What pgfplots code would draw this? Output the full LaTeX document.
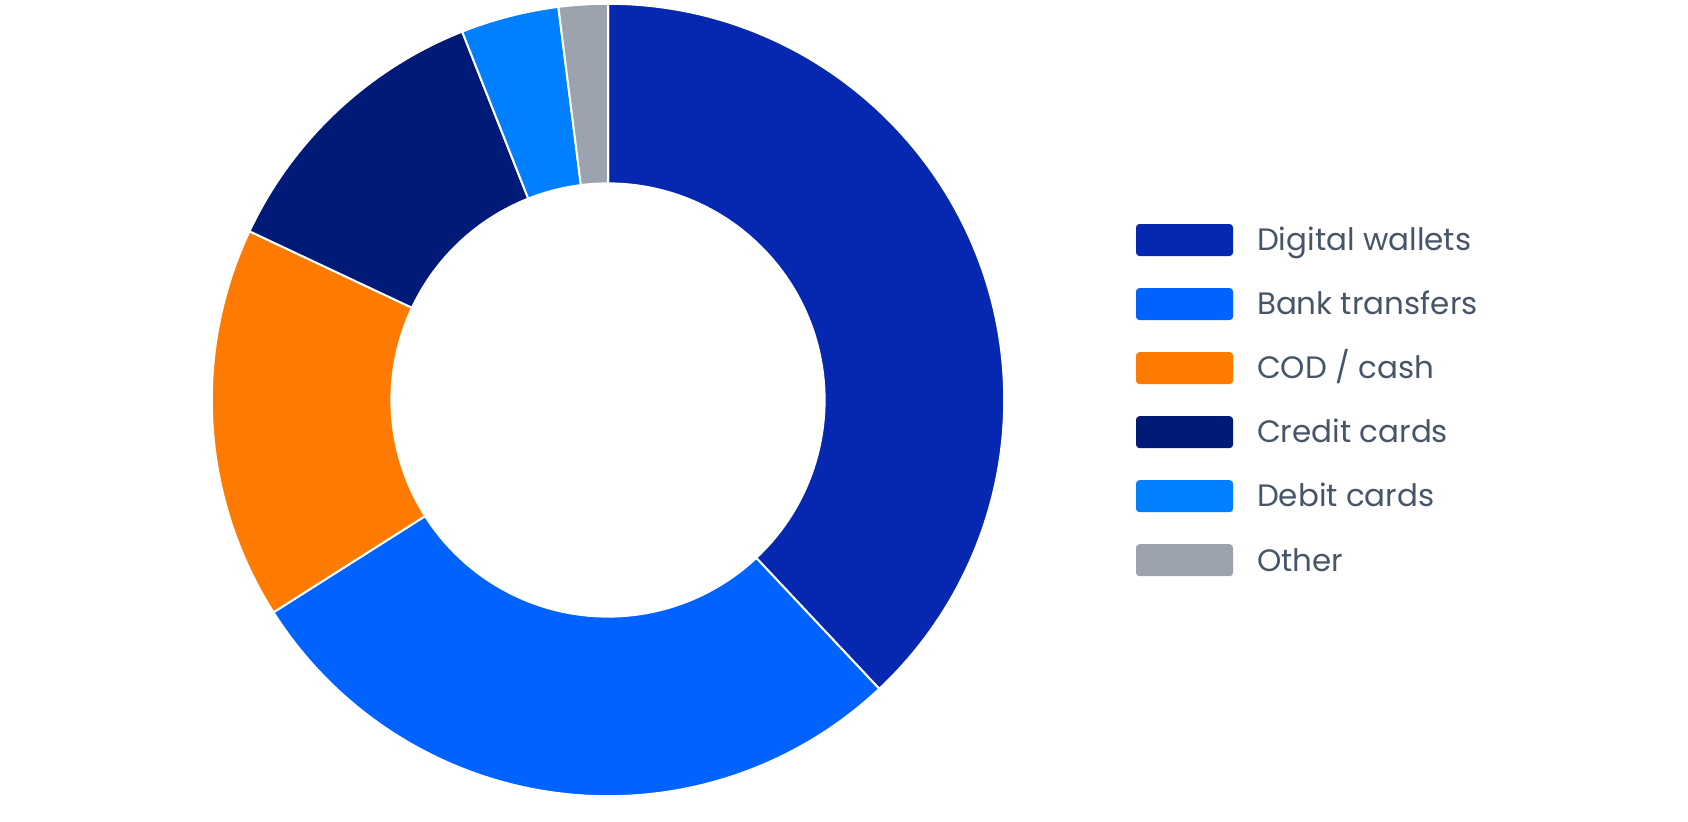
\documentclass[border=0pt]{standalone}
\usepackage{pgfplots}
\pgfplotsset{compat=1.18}
\usepackage{pgfplotstable}
\usepackage{fontspec}
\setmainfont{Poppins}

\definecolor{cDW}{HTML}{0627B0}
\definecolor{cBT}{HTML}{0062FF}
\definecolor{cCOD}{HTML}{FF7A00}
\definecolor{cCC}{HTML}{001A78}
\definecolor{cDC}{HTML}{0080FF}
\definecolor{cOT}{HTML}{9CA3AF}
\definecolor{txt}{HTML}{475569}

% share of payments, percent
\pgfplotstableread[col sep=comma]{
label,value,color
Digital wallets,38,cDW
Bank transfers,28,cBT
COD / cash,16,cCOD
Credit cards,12,cCC
Debit cards,4,cDC
Other,2,cOT
}\shares

\pgfplotsset{
  swatch legend/.style={legend image code/.code={
      \fill[##1, rounded corners=0.035cm] (0cm,-0.052cm) rectangle (0.97cm,0.268cm);
      \path (1.21cm,0cm);}},
}

\begin{document}
\begin{tikzpicture}
\begin{axis}[
  x=0.01cm, y=0.01cm,
  xmin=0, xmax=1688, ymin=0, ymax=800,
  y dir=reverse,
  hide axis, clip=false, scale only axis,
  legend style={at={(axis cs:1136,224)}, anchor=north west,
    draw=none, fill=none, inner sep=0pt, outer sep=0pt,
    row sep=0.32cm, column sep=0pt,
    font=\fontsize{8.8}{10}\selectfont, text=txt,
    nodes={inner sep=0pt, anchor=base west, text height=0.2cm, text depth=0cm}},
  legend cell align=left,
]
\path (axis cs:0,0) rectangle (axis cs:1688,800);
\def\cum{0}
\pgfplotsforeachungrouped \i in {0,...,5}{%
  \pgfplotstablegetelem{\i}{value}\of\shares \let\sv\pgfplotsretval
  \pgfplotstablegetelem{\i}{color}\of\shares \let\wc\pgfplotsretval
  \pgfplotstablegetelem{\i}{label}\of\shares \let\lab\pgfplotsretval
  \pgfmathsetmacro\sa{90-3.6*\cum}
  \pgfmathsetmacro\cum{\cum+\sv}
  \pgfmathsetmacro\sb{90-3.6*\cum}
  \edef\tmp{\noexpand\fill[\wc, draw=white, line width=0.02cm]
    ([shift={(\sa:3.96cm)}]axis cs:608,400)
    arc[start angle=\sa, end angle=\sb, radius=3.96cm]
    -- ([shift={(\sb:2.165cm)}]axis cs:608,400)
    arc[start angle=\sb, end angle=\sa, radius=2.165cm] -- cycle;}%
  \tmp
  \edef\tmp{\noexpand\addlegendimage{swatch legend, fill=\wc, draw=none}}\tmp
  \edef\tmp{\noexpand\addlegendentry{\lab}}\tmp
}
\end{axis}
\end{tikzpicture}
\end{document}
